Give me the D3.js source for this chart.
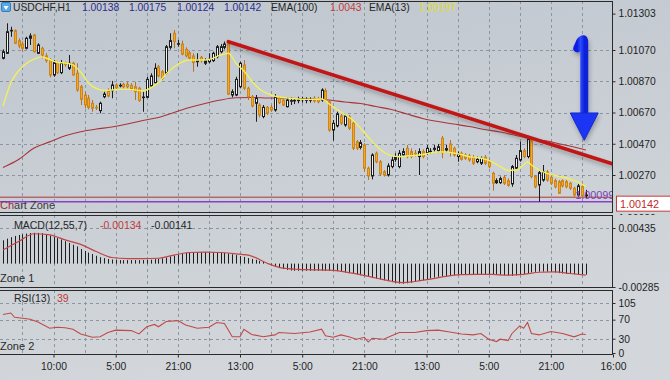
<!DOCTYPE html>
<html><head><meta charset="utf-8">
<script src="https://cdn.jsdelivr.net/npm/d3@7"></script>
<style>
body{margin:0;background:#c6ccd3;}
svg{display:block;font-family:"Liberation Sans",Arial,sans-serif;}
</style>
</head><body>
<svg id="c" width="670" height="380"></svg>
<script>
// ---------------- DATA ----------------
const symbol = "USDCHF,H1";
const lastOHLC = ["1.00138","1.00175","1.00124","1.00142"];
const ema100Label = "1.0043", ema13Label = "1.00197";
const macdLabel = ["-0.00134","-0.00141"];
const rsiLabel = "39";

const opens = [
1.01017,1.01049,1.01192,1.01194,1.01130,1.01108,1.01081,1.01145,1.01166,1.01049,
1.01081,1.01032,1.01006,1.00910,1.00989,1.00925,1.00989,1.00953,1.00985,1.00921,
1.00835,1.00782,1.00761,1.00729,1.00703,1.00682,1.00771,1.00810,1.00810,1.00846,
1.00842,1.00850,1.00850,1.00844,1.00835,1.00825,1.00767,1.00767,1.00840,1.00861,
1.00963,1.00931,1.00921,1.01087,1.01177,1.01108,1.01108,1.01074,1.01053,1.01032,
1.00995,1.01023,1.00985,1.00995,1.01002,1.01027,1.01059,1.01087,1.01108,1.00782,
1.00782,1.00835,1.00974,1.00825,1.00771,1.00729,1.00718,1.00644,1.00703,1.00703,
1.00686,1.00761,1.00750,1.00707,1.00744,1.00744,1.00748,1.00752,1.00750,1.00750,
1.00761,1.00756,1.00750,1.00810,1.00739,1.00558,1.00584,1.00648,1.00590,1.00644,
1.00601,1.00483,1.00447,1.00462,1.00313,1.00264,1.00409,1.00355,1.00291,1.00270,
1.00324,1.00370,1.00324,1.00398,1.00441,1.00420,1.00409,1.00388,1.00420,1.00409,
1.00420,1.00434,1.00426,1.00505,1.00430,1.00469,1.00441,1.00388,1.00409,1.00398,
1.00392,1.00383,1.00355,1.00345,1.00383,1.00355,1.00281,1.00221,1.00221,1.00255,
1.00234,1.00213,1.00313,1.00366,1.00426,1.00388,1.00490,1.00260,1.00206,1.00238,
1.00289,1.00255,1.00234,1.00227,1.00234,1.00227,1.00217,1.00185,1.00142,1.00195,
1.00138];
const highs = [
1.01074,1.01241,1.01219,1.01202,1.01145,1.01124,1.01155,1.01177,1.01172,1.01113,
1.01091,1.01049,1.01017,1.01006,1.00995,1.01006,1.00995,1.01038,1.00995,1.00985,
1.00846,1.00803,1.00782,1.00750,1.00718,1.00739,1.00803,1.00825,1.00872,1.00857,
1.00857,1.00861,1.00867,1.00857,1.00867,1.00835,1.00803,1.00899,1.00921,1.00985,
1.00974,1.00942,1.01102,1.01177,1.01198,1.01134,1.01130,1.01087,1.01066,1.01049,
1.01049,1.01032,1.01017,1.01049,1.01059,1.01102,1.01108,1.01124,1.01124,1.00818,
1.00899,1.00995,1.01006,1.00835,1.00782,1.00782,1.00729,1.00718,1.00712,1.00718,
1.00788,1.00775,1.00761,1.00767,1.00767,1.00761,1.00771,1.00771,1.00767,1.00767,
1.00775,1.00771,1.00825,1.00825,1.00750,1.00622,1.00675,1.00661,1.00658,1.00654,
1.00611,1.00494,1.00494,1.00473,1.00324,1.00409,1.00420,1.00366,1.00302,1.00345,
1.00388,1.00409,1.00430,1.00441,1.00462,1.00441,1.00430,1.00441,1.00434,1.00462,
1.00441,1.00462,1.00469,1.00520,1.00462,1.00494,1.00451,1.00420,1.00420,1.00409,
1.00405,1.00398,1.00388,1.00388,1.00398,1.00370,1.00291,1.00249,1.00260,1.00270,
1.00249,1.00334,1.00398,1.00483,1.00441,1.00520,1.00505,1.00270,1.00298,1.00334,
1.00302,1.00270,1.00247,1.00238,1.00242,1.00238,1.00225,1.00195,1.00213,1.00206,
1.00175];
const lows = [
1.01010,1.01044,1.01155,1.01108,1.01081,1.01059,1.01074,1.01102,1.01053,1.01044,
1.01017,1.00989,1.00895,1.00899,1.00916,1.00916,1.00963,1.00942,1.00904,1.00803,
1.00718,1.00697,1.00690,1.00675,1.00686,1.00665,1.00761,1.00767,1.00761,1.00818,
1.00831,1.00825,1.00825,1.00810,1.00750,1.00739,1.00675,1.00761,1.00835,1.00857,
1.00895,1.00878,1.00910,1.01074,1.01081,1.01091,1.01036,1.01023,1.01006,1.00931,
1.00963,1.00989,1.00974,1.00985,1.00993,1.01017,1.01049,1.01074,1.00782,1.00767,
1.00775,1.00825,1.00814,1.00750,1.00703,1.00611,1.00639,1.00633,1.00654,1.00675,
1.00675,1.00724,1.00712,1.00703,1.00718,1.00724,1.00729,1.00733,1.00729,1.00733,
1.00733,1.00729,1.00739,1.00739,1.00547,1.00490,1.00575,1.00590,1.00579,1.00558,
1.00430,1.00430,1.00434,1.00291,1.00238,1.00242,1.00345,1.00264,1.00260,1.00260,
1.00313,1.00355,1.00313,1.00388,1.00377,1.00377,1.00388,1.00270,1.00377,1.00398,
1.00405,1.00420,1.00413,1.00377,1.00413,1.00388,1.00388,1.00355,1.00362,1.00366,
1.00355,1.00334,1.00345,1.00334,1.00334,1.00313,1.00170,1.00213,1.00213,1.00206,
1.00195,1.00195,1.00302,1.00355,1.00377,1.00377,1.00249,1.00185,1.00099,1.00227,
1.00227,1.00206,1.00185,1.00149,1.00191,1.00185,1.00174,1.00131,1.00131,1.00121,
1.00125];
const closes = [
1.01059,1.01187,1.01196,1.01113,1.01096,1.01081,1.01145,1.01160,1.01059,1.01102,
1.01038,1.01002,1.00910,1.00989,1.00925,1.00989,1.00976,1.00985,1.00910,1.00814,
1.00754,1.00718,1.00703,1.00697,1.00701,1.00729,1.00788,1.00775,1.00846,1.00829,
1.00844,1.00835,1.00835,1.00818,1.00803,1.00746,1.00769,1.00882,1.00904,1.00953,
1.00904,1.00889,1.01091,1.01130,1.01124,1.01111,1.01044,1.01032,1.01017,1.00989,
1.01006,1.01002,1.01002,1.01010,1.01049,1.01091,1.01091,1.01108,1.00788,1.00803,
1.00882,1.00985,1.00825,1.00771,1.00712,1.00761,1.00654,1.00703,1.00665,1.00686,
1.00771,1.00733,1.00718,1.00750,1.00746,1.00748,1.00750,1.00756,1.00752,1.00752,
1.00744,1.00739,1.00814,1.00750,1.00558,1.00601,1.00661,1.00601,1.00648,1.00569,
1.00441,1.00441,1.00477,1.00313,1.00264,1.00398,1.00355,1.00277,1.00270,1.00328,
1.00366,1.00383,1.00409,1.00420,1.00388,1.00388,1.00407,1.00420,1.00388,1.00441,
1.00422,1.00441,1.00451,1.00413,1.00439,1.00420,1.00398,1.00405,1.00370,1.00377,
1.00366,1.00345,1.00370,1.00377,1.00345,1.00324,1.00217,1.00234,1.00247,1.00217,
1.00204,1.00324,1.00377,1.00426,1.00388,1.00498,1.00260,1.00195,1.00285,1.00289,
1.00238,1.00217,1.00195,1.00153,1.00200,1.00195,1.00185,1.00142,1.00200,1.00138,
1.00142];

const ema13Bars = [0,2,4,6,8,10,12,14,16,18,20,22,24,26,28,30,32,34,36,38,40,42,44,46,48,50,52,54,56,58,60,62,64,66,68,70,72,74,76,78,80,82,84,86,88,90,92,94,96,98,100,102,104,106,108,110,112,114,116,118,120,122,124,126,128,130,132,134,135,136,138,140,142,144,146,148,150];
const ema13Vals = [1.00710,1.00859,1.00936,1.00984,1.01012,1.01026,1.01009,1.00990,1.00987,1.00974,1.00929,1.00859,1.00824,1.00811,1.00814,1.00818,1.00818,1.00815,1.00808,1.00827,1.00862,1.00916,1.00961,1.00993,1.01006,1.01006,1.01006,1.01016,1.01038,1.01049,1.00984,1.00936,1.00872,1.00820,1.00792,1.00774,1.00766,1.00761,1.00756,1.00754,1.00754,1.00756,1.00724,1.00689,1.00657,1.00622,1.00569,1.00513,1.00459,1.00417,1.00392,1.00387,1.00392,1.00395,1.00401,1.00411,1.00417,1.00417,1.00411,1.00401,1.00387,1.00382,1.00372,1.00353,1.00324,1.00299,1.00302,1.00334,1.00355,1.00334,1.00302,1.00280,1.00267,1.00257,1.00244,1.00225,1.00197];

const ema100Bars = [0,4,8,12,16,20,24,28,32,36,40,44,48,52,56,60,64,68,72,76,80,84,88,92,96,100,104,108,112,116,120,124,128,132,136,140,144,148,150];
const ema100Vals = [1.00318,1.00369,1.00443,1.00482,1.00521,1.00547,1.00564,1.00577,1.00596,1.00619,1.00638,1.00670,1.00702,1.00728,1.00750,1.00764,1.00766,1.00763,1.00761,1.00760,1.00756,1.00750,1.00737,1.00728,1.00708,1.00689,1.00660,1.00632,1.00612,1.00596,1.00580,1.00561,1.00545,1.00523,1.00500,1.00488,1.00465,1.00443,1.00430];

const macdHist = [
0.00285,0.00305,0.00323,0.00338,0.00350,0.00358,0.00367,0.00373,0.00376,0.00375,
0.00370,0.00362,0.00344,0.00328,0.00312,0.00295,0.00274,0.00253,0.00230,0.00210,
0.00178,0.00155,0.00135,0.00117,0.00096,0.00078,0.00068,0.00057,0.00050,0.00045,
0.00043,0.00043,0.00043,0.00043,0.00043,0.00043,0.00044,0.00045,0.00048,0.00055,
0.00058,0.00065,0.00074,0.00088,0.00100,0.00112,0.00122,0.00132,0.00137,0.00140,
0.00141,0.00141,0.00141,0.00140,0.00139,0.00137,0.00133,0.00130,0.00124,0.00114,
0.00104,0.00092,0.00082,0.00068,0.00058,0.00047,0.00035,0.00020,0.00000,-0.00018,
-0.00037,-0.00052,-0.00066,-0.00076,-0.00084,-0.00087,-0.00087,-0.00087,-0.00087,-0.00087,
-0.00087,-0.00087,-0.00087,-0.00087,-0.00087,-0.00088,-0.00092,-0.00098,-0.00108,-0.00116,
-0.00123,-0.00132,-0.00142,-0.00152,-0.00162,-0.00172,-0.00182,-0.00193,-0.00203,-0.00214,
-0.00226,-0.00236,-0.00243,-0.00244,-0.00240,-0.00232,-0.00223,-0.00213,-0.00202,-0.00190,
-0.00180,-0.00170,-0.00161,-0.00155,-0.00150,-0.00145,-0.00140,-0.00136,-0.00133,-0.00131,
-0.00129,-0.00128,-0.00128,-0.00128,-0.00128,-0.00129,-0.00132,-0.00135,-0.00137,-0.00141,
-0.00145,-0.00148,-0.00142,-0.00134,-0.00125,-0.00116,-0.00107,-0.00100,-0.00098,-0.00097,
-0.00098,-0.00102,-0.00108,-0.00115,-0.00120,-0.00124,-0.00127,-0.00130,-0.00132,-0.00133,
-0.00134];

const signalBars = [0,4,8,12,16,20,24,28,32,36,40,44,48,52,56,60,64,68,72,76,80,84,88,92,96,100,103,106,110,114,118,122,126,130,134,138,142,146,150];
const signalVals = [0.00166,0.00270,0.00365,0.00352,0.00290,0.00235,0.00148,0.00075,0.00062,0.00062,0.00066,0.00105,0.00136,0.00140,0.00136,0.00120,0.00092,0.00005,-0.00055,-0.00070,-0.00075,-0.00080,-0.00100,-0.00135,-0.00175,-0.00215,-0.00232,-0.00218,-0.00190,-0.00155,-0.00135,-0.00130,-0.00132,-0.00140,-0.00130,-0.00105,-0.00100,-0.00120,-0.00141];

const rsiBars = [0,2,3,5,7,9,12,14,16,18,20,23,25,27,29,33,35,37,39,40,42,45,47,50,53,55,57,59,61,62,64,67,70,71,75,79,82,83,85,87,89,91,93,94,95,98,100,102,106,109,112,115,118,121,123,125,127,128,130,131,133,134,135,136,138,141,144,147,149,150];
const rsiVals = [81,84,75,73,71,65,52,54,53,50,40,33,34,43,48,47,40,55,60,55,66,68,59,52,54,64,62,34,34,50,39,34,38,43,41,44,50,36,33,38,34,29,33,23,31,29,36,43,43,47,48,44,40,38,41,29,24,29,26,41,57,52,64,41,38,45,41,34,40,39];

const priceTicks = [1.01303,1.01070,1.00870,1.00670,1.00470,1.00270];
const priceGrid = [1.01070,1.00870,1.00670,1.00470,1.00270];
const priceMin = 1.00030;
const macdTicks = [0.00435,-0.00285];
const rsiTicks = [105,70,30,0];
const timeBars = [13,29,45,61,77,93,109,125,141,157];
const timeLabels = ["10:00","5:00","21:00","13:00","5:00","21:00","13:00","5:00","21:00","16:00"];

// drawing objects (bar index, price)
const trendBars = [58,157], trendPrices = [1.01123,1.00340];
const supportBars = [133,157], supportPrice = 1.00093;
const levelPrice = 1.00099, bidLinePrice = 1.00128;
const arrowBar = 149.6, arrowTopPrice = 1.01157, arrowHeadPrice = 1.00667, arrowTipPrice = 1.00492;

// ---------------- LAYOUT ----------------
const svg = d3.select("#c");
const AX = 612.5;
const P = {main:[1,212], macd:[215,287], rsi:[290,354]};
const xBar = d3.scaleLinear().domain([0,157]).range([3,613]);
const yMain = d3.scaleLinear().domain([1.00270,1.01070]).range([175,50]);
const yMacd = d3.scaleLinear().domain([-0.00285,0.00435]).range([287,228]);
const yRsi = d3.scaleLinear().domain([0,105]).range([353,303]);
const cx = i => Math.round(xBar(i)) + 0.5;

const defs = svg.append("defs");
const g0 = defs.append("linearGradient").attr("id","bg").attr("x1",0).attr("y1",0).attr("x2",0.3).attr("y2",1);
g0.append("stop").attr("offset","0").attr("stop-color","#bfc6ce");
g0.append("stop").attr("offset","1").attr("stop-color","#d3d7db");
const ag = defs.append("linearGradient").attr("id","ab").attr("x1",0).attr("y1",0).attr("x2",1).attr("y2",0);
ag.append("stop").attr("offset","0").attr("stop-color","#0a1ee0");
ag.append("stop").attr("offset","0.45").attr("stop-color","#2f4bff");
ag.append("stop").attr("offset","1").attr("stop-color","#1024d8");
const f = defs.append("filter").attr("id","sh").attr("x","-20%").attr("y","-20%").attr("width","140%").attr("height","160%");
f.append("feDropShadow").attr("dx",1).attr("dy",3).attr("stdDeviation",2).attr("flood-color","#303030").attr("flood-opacity",0.35);
for (const k in P) {
  defs.append("clipPath").attr("id","cl-"+k).append("rect")
    .attr("x",0).attr("y",P[k][0]).attr("width",AX).attr("height",P[k][1]-P[k][0]);
}
defs.append("clipPath").attr("id","cl-minlab").append("rect").attr("x",613).attr("y",211.6).attr("width",57).attr("height",3.4);

svg.append("rect").attr("width",670).attr("height",380).attr("fill","url(#bg)");

// grid
const gridIdx = d3.range(5,157,8);
const grid = svg.append("g").attr("stroke","#8b96a3").attr("stroke-dasharray","3,3").attr("stroke-width",1);
for (const k in P) {
  grid.selectAll(null).data(gridIdx).enter().append("line")
    .attr("x1",d=>cx(d)).attr("x2",d=>cx(d)).attr("y1",P[k][0]).attr("y2",P[k][1]);
}
grid.selectAll(null).data(priceGrid).enter().append("line")
  .attr("x1",0).attr("x2",AX).attr("y1",d=>Math.round(yMain(d))+0.5).attr("y2",d=>Math.round(yMain(d))+0.5);
grid.append("line").attr("x1",0).attr("x2",AX).attr("y1",Math.round(yMacd(0.00435))+0.5).attr("y2",Math.round(yMacd(0.00435))+0.5);
grid.selectAll(null).data([105,70,30]).enter().append("line")
  .attr("x1",0).attr("x2",AX).attr("y1",d=>Math.round(yRsi(d))+0.5).attr("y2",d=>Math.round(yRsi(d))+0.5);

// ---------- main panel ----------
const main = svg.append("g").attr("clip-path","url(#cl-main)");
main.append("line").attr("x1",0).attr("x2",AX).attr("y1",yMain(bidLinePrice)).attr("y2",yMain(bidLinePrice))
  .attr("stroke","#a83838").attr("stroke-width",1);
main.append("line").attr("x1",0).attr("x2",AX).attr("y1",yMain(levelPrice)).attr("y2",yMain(levelPrice))
  .attr("stroke","#8a3fc8").attr("stroke-width",1.5);

const lineMain = d3.line().x(d=>xBar(d[0])).y(d=>yMain(d[1])).curve(d3.curveMonotoneX);
main.append("path").attr("d",lineMain(d3.zip(ema100Bars,ema100Vals)))
  .attr("fill","none").attr("stroke","#a8343a").attr("stroke-width",1.1);

const idx = d3.range(closes.length);
const cg = main.append("g");
cg.selectAll("line.w").data(idx).enter().append("line")
  .attr("x1",cx).attr("x2",cx)
  .attr("y1",i=>yMain(highs[i])).attr("y2",i=>yMain(lows[i]))
  .attr("stroke",i=>closes[i]>=opens[i]?"#1c1c1c":"#b07426").attr("stroke-width",1);
cg.selectAll("rect").data(idx).enter().append("rect")
  .attr("x",i=>cx(i)-1).attr("width",2)
  .attr("y",i=>Math.min(yMain(opens[i]),yMain(closes[i])))
  .attr("height",i=>Math.max(0.6,Math.abs(yMain(opens[i])-yMain(closes[i]))))
  .attr("fill",i=>closes[i]>=opens[i]?"#f2f2f0":"#f5a623")
  .attr("stroke",i=>closes[i]>=opens[i]?"#1c1c1c":"#cf8616").attr("stroke-width",1);

main.append("path").attr("d",lineMain(d3.zip(ema13Bars,ema13Vals)))
  .attr("fill","none").attr("stroke","#f2f05a").attr("stroke-width",1.4);

main.append("line").attr("x1",xBar(trendBars[0])).attr("x2",xBar(trendBars[1]))
  .attr("y1",yMain(trendPrices[0])).attr("y2",yMain(trendPrices[1]))
  .attr("stroke","#c01616").attr("stroke-width",3.6).attr("stroke-linecap","round").attr("filter","url(#sh)");
main.append("line").attr("x1",xBar(supportBars[0])).attr("x2",xBar(supportBars[1]))
  .attr("y1",yMain(supportPrice)).attr("y2",yMain(supportPrice))
  .attr("stroke","#d01010").attr("stroke-width",3).attr("filter","url(#sh)");

const ax = xBar(arrowBar), aTop = yMain(arrowTopPrice), aHead = yMain(arrowHeadPrice), aTip = yMain(arrowTipPrice);
const arrow = main.append("g").attr("filter","url(#sh)");
arrow.append("path")
  .attr("d",`M${ax},${aHead+2} L${ax},${aTop+6} Q${ax},${aTop} ${ax-4},${aTop+5} L${ax-7},${aTop+12}`)
  .attr("fill","none").attr("stroke","url(#ab)").attr("stroke-width",8).attr("stroke-linecap","round").attr("stroke-linejoin","round");
arrow.append("path")
  .attr("d",`M${ax-14},${aHead} L${ax+14},${aHead} L${ax},${aTip} Z`)
  .attr("fill","#1e36f5").attr("stroke","#1428d0").attr("stroke-width",1).attr("stroke-linejoin","round");

main.append("text").attr("x",xBar(147.3)).attr("y",yMain(levelPrice)-3).attr("font-size",10.8)
  .attr("fill","#7b3cc0").text(levelPrice.toFixed(5));

// header
const hdr = svg.append("g").attr("font-size",10.3);
const ic = hdr.append("g");
ic.append("rect").attr("x",1.5).attr("y",2.5).attr("width",9).attr("height",9).attr("rx",1.5).attr("fill","#5aa8e6").attr("stroke","#2f7fc4");
ic.append("path").attr("d","M3.5,6 L8.5,6 L6,10 Z").attr("fill","#ffffff");
hdr.append("text").attr("x",13).attr("y",11).attr("fill","#262626").text(symbol);
const ohlcX = [82,129,177,224];
hdr.selectAll(null).data(lastOHLC).enter().append("text").attr("x",(d,i)=>ohlcX[i]).attr("y",11).attr("fill","#2c2c8e").text(d=>d);
hdr.append("text").attr("x",271).attr("y",11).attr("fill","#262626").text("EMA(100)");
hdr.append("text").attr("x",330).attr("y",11).attr("fill","#c23a3a").text(ema100Label);
hdr.append("text").attr("x",369).attr("y",11).attr("fill","#262626").text("EMA(13)");
hdr.append("text").attr("x",419).attr("y",11).attr("fill","#e2de1c").text(ema13Label);

// Chart Zone label
const cz = svg.append("text").attr("x",0).attr("y",209).attr("font-size",11).attr("fill","#3a3a3a");
cz.append("tspan").attr("fill","#9a3030").text("Ch");
cz.append("tspan").text("art Zone");

// ---------- MACD ----------
const mg = svg.append("g").attr("clip-path","url(#cl-macd)");
mg.selectAll("line").data(idx).enter().append("line")
  .attr("x1",cx).attr("x2",cx).attr("y1",yMacd(0)).attr("y2",i=>yMacd(macdHist[i]))
  .attr("stroke","#1e1e1e").attr("stroke-width",1);
mg.append("path").attr("d",d3.line().x(d=>xBar(d[0])).y(d=>yMacd(d[1])).curve(d3.curveMonotoneX)(d3.zip(signalBars,signalVals)))
  .attr("fill","none").attr("stroke","#c24444").attr("stroke-width",1.2);
const mt = svg.append("g").attr("font-size",10.5);
mt.append("text").attr("x",14).attr("y",228.5).attr("fill","#262626").text("MACD(12,55,7)");
mt.append("text").attr("x",100).attr("y",228.5).attr("fill","#c23a3a").text(macdLabel[0]);
mt.append("text").attr("x",151).attr("y",228.5).attr("fill","#262626").text(macdLabel[1]);
svg.append("text").attr("x",0).attr("y",282).attr("font-size",11).attr("fill","#2a2a2a").text("Zone 1");

// ---------- RSI ----------
const rg = svg.append("g").attr("clip-path","url(#cl-rsi)");
rg.append("path").attr("d",d3.line().x(d=>xBar(d[0])).y(d=>yRsi(d[1]))(d3.zip(rsiBars,rsiVals)))
  .attr("fill","none").attr("stroke","#c04a4a").attr("stroke-width",1.1);
svg.append("text").attr("x",14).attr("y",301.5).attr("font-size",10.5).attr("fill","#262626").text("RSI(13)");
svg.append("text").attr("x",57).attr("y",301.5).attr("font-size",10.5).attr("fill","#c23a3a").text(rsiLabel);
svg.append("text").attr("x",0).attr("y",350).attr("font-size",11).attr("fill","#2a2a2a").text("Zone 2");

// ---------- frames ----------
const fr = svg.append("g").attr("fill","none").attr("stroke","#2a2a2a").attr("stroke-width",1);
for (const k in P) {
  fr.append("rect").attr("x",-2).attr("y",P[k][0]+0.5).attr("width",AX+2).attr("height",P[k][1]-P[k][0]);
}

// ---------- axes ----------
function styleAxis(g){
  g.select(".domain").remove();
  g.selectAll(".tick line").attr("stroke","#2a2a2a");
  g.selectAll(".tick text").attr("fill","#1e1e1e").attr("font-size",10.3).attr("font-family","Liberation Sans, Arial, sans-serif");
}
svg.append("g").attr("transform",`translate(${AX},0)`)
  .call(d3.axisRight(yMain).tickValues(priceTicks).tickFormat(d3.format(".5f")).tickSize(3).tickPadding(3))
  .call(styleAxis);
svg.append("g").attr("transform",`translate(${AX},0)`)
  .call(d3.axisRight(yMacd).tickValues(macdTicks).tickFormat(d=>d.toFixed(5)).tickSize(3).tickPadding(3))
  .call(styleAxis);
svg.append("g").attr("transform",`translate(${AX},0)`)
  .call(d3.axisRight(yRsi).tickValues(rsiTicks).tickFormat(d3.format("d")).tickSize(3).tickPadding(3))
  .call(styleAxis);
svg.append("g").attr("transform",`translate(0,${P.rsi[1]+0.5})`)
  .call(d3.axisBottom(xBar).tickValues(timeBars).tickFormat((d,i)=>timeLabels[i]).tickSize(3).tickPadding(5))
  .call(styleAxis);
// bottom (minimum) price label: only a sliver peeks out below the price box
svg.append("g").attr("clip-path","url(#cl-minlab)").append("text")
  .attr("x",AX+6).attr("y",221.5).attr("font-size",10.3).attr("fill","#1e1e1e").text(priceMin.toFixed(5));

// current price box
const pb = svg.append("g");
const pby = yMain(supportPrice)+1;
pb.append("rect").attr("x",616.5).attr("y",pby-7.5).attr("width",60).attr("height",15).attr("fill","#ffffff").attr("stroke","#c83a3a");
pb.append("text").attr("x",620).attr("y",pby+4).attr("font-size",10.8).attr("fill","#c02a2a").text(lastOHLC[3]);
</script>
</body></html>
